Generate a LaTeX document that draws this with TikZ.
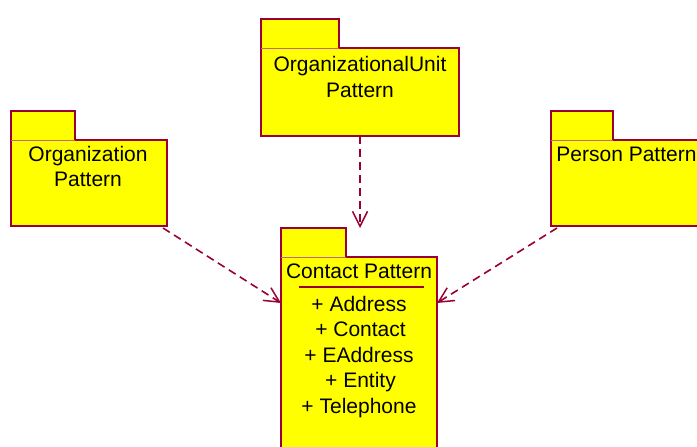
\documentclass[tikz,border=0pt]{standalone}
\usepackage{fontspec}
\setmainfont{Liberation Sans}
\usetikzlibrary{arrows.meta,calc}

\definecolor{pkgline}{HTML}{990033}
\definecolor{pkgfill}{HTML}{FFFF00}

\tikzset{
  pkgframe/.style={rectangle, draw=none, inner sep=0pt, outer sep=0pt,
    anchor=north west},
  pkgedge/.style={draw=pkgline, line width=1.8pt, line join=miter},
  pkgsep/.style={draw=pkgline!60, line width=0.6pt},
  pkgtext/.style={anchor=base, inner sep=0pt, font=\fontsize{21}{24}\selectfont},
  dependency/.style={draw=pkgline, line width=1.6pt, dash pattern=on 8pt off 5pt,
    -{Straight Barb[length=15pt,width=15pt,line width=1.5pt]}},
}

% UML package: name, left x, top y, total width, total height, tab width
\newcommand\umlpkg[6]{%
  \node[pkgframe, minimum width=#4pt, minimum height=#5pt] (#1) at (#2,#3) {};
  \fill[pkgfill] (#1.north west) rectangle ++(#6,29);
  \fill[pkgfill] ($(#1.north west)+(0,29)$) rectangle (#1.south east);
  \draw[pkgedge] ($(#1.north west)+(0,29)$) coordinate (#1-a)
    -- (#1.north west) -- ++(#6,0) -- ++(0,29) -| (#1.south east) -| (#1-a) -- cycle;
  \draw[pkgsep] (#1-a) -- ++(#6,0);
}

\begin{document}
\begin{tikzpicture}[x=1pt,y=-1pt]
  \useasboundingbox (0,0) rectangle (697,447);
  \clip (0,0) rectangle (697,447);

  % packages
  \umlpkg{ou}{261}{19}{198}{117}{78}
  \umlpkg{org}{11}{111}{156}{115}{64}
  \umlpkg{person}{551}{111}{156}{115}{62}
  \umlpkg{cp}{281}{228}{156}{240}{65}

  % package names
  \node[pkgtext] (ou-l1) at ($(ou.north)+(0,52)$) {OrganizationalUnit};
  \node[pkgtext] (ou-l2) at ($(ou.north)+(0,78)$) {Pattern};
  \node[pkgtext] (org-l1) at ($(org.north)+(-1,50)$) {Organization};
  \node[pkgtext] (org-l2) at ($(org.north)+(-1,75)$) {Pattern};
  \node[pkgtext] (person-l1) at ($(person.north)+(-2.5,50)$) {Person Pattern};

  % contents of Contact Pattern
  \node[pkgtext] (cp-title) at ($(cp.north)+(0,50)$) {Contact Pattern};
  \draw[draw=pkgline, line width=1.3pt] ($(cp.north west)+(18,59)$) -- ++(125,0);
  \node[pkgtext] (cp-i1) at ($(cp.north)+(0,83)$) {+ Address};
  \node[pkgtext] (cp-i2) at ($(cp.north)+(1.5,108)$) {+ Contact};
  \node[pkgtext] (cp-i3) at ($(cp.north)+(0,134)$) {+ EAddress};
  \node[pkgtext] (cp-i4) at ($(cp.north)+(1.5,159)$) {+ Entity};
  \node[pkgtext] (cp-i5) at ($(cp.north)+(0,185)$) {+ Telephone};

  % dependencies
  \draw[dependency] (ou.south) -- (ou.south |- cp.north);
  \draw[dependency] ($(org.south east)+(-4,2)$) -- ($(cp.north west)+(0,75)$);
  \draw[dependency] ($(person.south west)+(6,2)$) -- ($(cp.north east)+(0,75)$);
\end{tikzpicture}
\end{document}
